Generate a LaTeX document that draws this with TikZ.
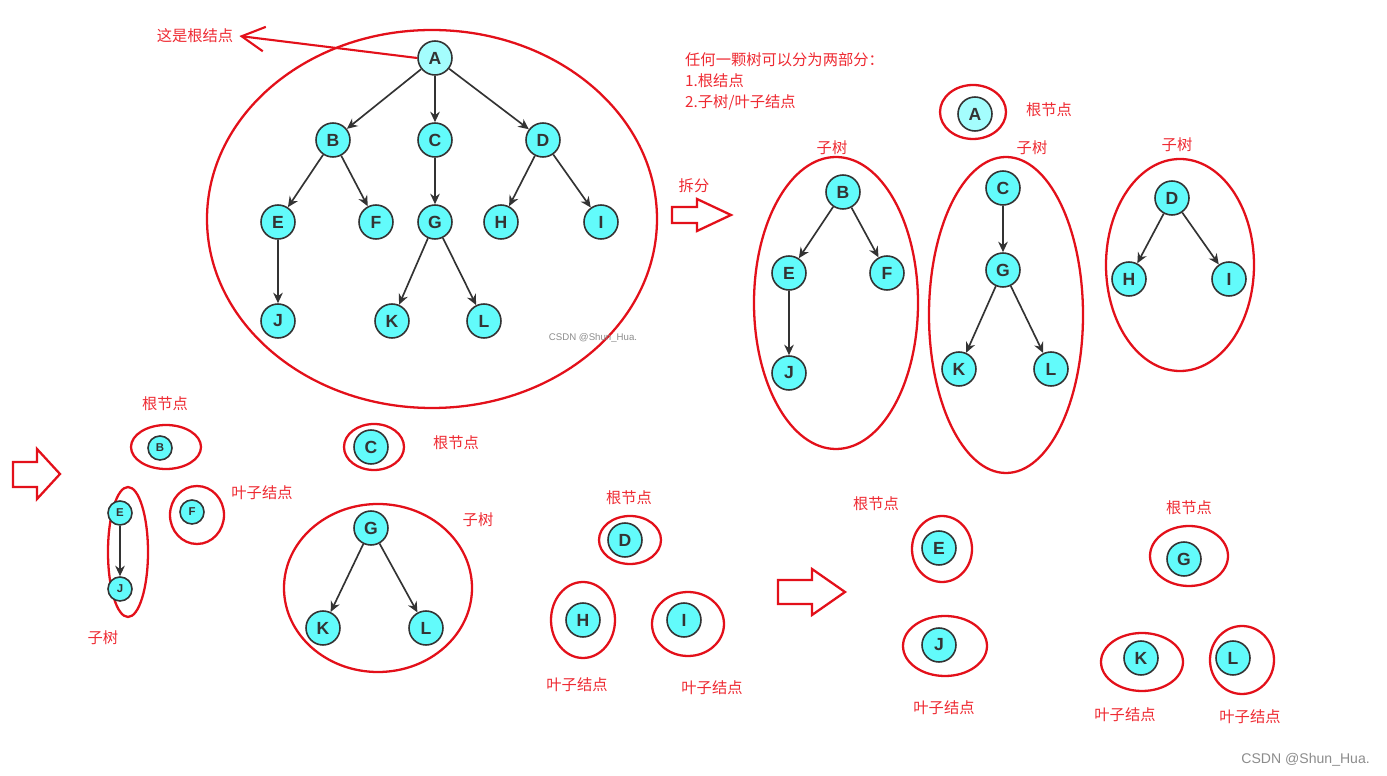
\documentclass[tikz,border=0pt]{standalone}
\usepackage{fontspec}
\usetikzlibrary{arrows.meta, positioning}
\newfontfamily\cjk{Noto Sans CJK SC}
\newfontfamily\letterfont{Liberation Sans}
\definecolor{Ink}{HTML}{333333}
\definecolor{NodeFill}{HTML}{62FBFB}
\definecolor{RootFill}{HTML}{A4FDFD}
\definecolor{Mark}{HTML}{E3101A}
\definecolor{MarkText}{HTML}{EE2A32}
\definecolor{Dim}{HTML}{8C8C8C}

\begin{document}
\begin{tikzpicture}[
            x=0.02cm, y=-0.02cm,
            vertex/.style={
                circle,
                draw=Ink,
                fill=NodeFill,
                line width=0.9pt,
                minimum size=0.68cm,
                inner sep=0pt,
                font=\letterfont\bfseries\fontsize{10}{10}\selectfont,
                text=Ink
            },
            rootvertex/.style={vertex, fill=RootFill},
            smallvertex/.style={
                vertex,
                minimum size=0.48cm,
                font=\letterfont\bfseries\fontsize{6.5}{6.5}\selectfont
            },
            edge/.style={-{Stealth[length=6pt, width=5.5pt]}, line width=0.95pt, color=Ink},
            ring/.style={draw=Mark, line width=1.3pt},
            blockarrow/.style={draw=Mark, line width=1.3pt, fill=white, line join=miter},
            note/.style={font=\cjk\fontsize{8.7}{12}\selectfont, text=MarkText},
            mark/.style={font=\letterfont\fontsize{#1}{#1}\selectfont, text=Dim}
        ]
            \useasboundingbox (0,0) rectangle (1387,776);

            % Whole tree
            \draw[ring] (432,219) ellipse [x radius=225, y radius=189];
            \node[rootvertex] (a) at (435,58) {A};
            \node[vertex] (b) at (333,140) {B};
            \node[vertex] (c) at (435,140) {C};
            \node[vertex] (d) at (543,140) {D};
            \node[vertex] (e) at (278,222) {E};
            \node[vertex] (f) at (376,222) {F};
            \node[vertex] (g) at (435,222) {G};
            \node[vertex] (h) at (501,222) {H};
            \node[vertex] (i) at (601,222) {I};
            \node[vertex] (j) at (278,321) {J};
            \node[vertex] (k) at (392,321) {K};
            \node[vertex] (l) at (484,321) {L};
            \draw[edge] (a) -- (b);
            \draw[edge] (a) -- (c);
            \draw[edge] (a) -- (d);
            \draw[edge] (b) -- (e);
            \draw[edge] (b) -- (f);
            \draw[edge] (c) -- (g);
            \draw[edge] (d) -- (h);
            \draw[edge] (d) -- (i);
            \draw[edge] (e) -- (j);
            \draw[edge] (g) -- (k);
            \draw[edge] (g) -- (l);
            \node[note] (rootnote) at (195,36) {这是根结点};
            \draw[draw=Mark, line width=1.2pt, -{Straight Barb[length=13pt, width=14pt]}] (a.west) -- (rootnote.east);
            \node[mark=5.5] (wm1) at (593,338) {CSDN @Shun\_Hua.};

            % Split into root and subtrees
            \node[note, anchor=north west, align=left] (intro) at (679,46)
                {任何一颗树可以分为两部分：\\1.根结点\\2.子树/叶子结点};
            \node[note] (splitnote) at (694,186) {拆分};
            \draw[blockarrow] (672,207) -- (697,207) -- (697,199) -- (731,215) -- (697,231) -- (697,223) -- (672,223) -- cycle;

            \draw[ring] (973,112) ellipse [x radius=33, y radius=27];
            \node[rootvertex] (sa) at (975,114) {A};
            \node[note] (sanote) at (1049,110) {根节点};

            \draw[ring] (836,303) ellipse [x radius=82, y radius=146];
            \node[note] (sub1) at (832,148) {子树};
            \node[vertex] (sb) at (843,192) {B};
            \node[vertex] (se) at (789,273) {E};
            \node[vertex] (sf) at (887,273) {F};
            \node[vertex] (sj) at (789,373) {J};
            \draw[edge] (sb) -- (se);
            \draw[edge] (sb) -- (sf);
            \draw[edge] (se) -- (sj);

            \draw[ring] (1006,315) ellipse [x radius=77, y radius=158];
            \node[note] (sub2) at (1032,148) {子树};
            \node[vertex] (sc) at (1003,188) {C};
            \node[vertex] (sg) at (1003,270) {G};
            \node[vertex] (sk) at (959,369) {K};
            \node[vertex] (sl) at (1051,369) {L};
            \draw[edge] (sc) -- (sg);
            \draw[edge] (sg) -- (sk);
            \draw[edge] (sg) -- (sl);

            \draw[ring] (1180,265) ellipse [x radius=74, y radius=106];
            \node[note] (sub3) at (1177,145) {子树};
            \node[vertex] (sd) at (1172,198) {D};
            \node[vertex] (sh) at (1129,279) {H};
            \node[vertex] (si) at (1229,279) {I};
            \draw[edge] (sd) -- (sh);
            \draw[edge] (sd) -- (si);

            % Second split
            \draw[blockarrow] (13,462) -- (37,462) -- (37,449) -- (60,474) -- (37,499) -- (37,487) -- (13,487) -- cycle;

            \node[note] (bbnote) at (165,404) {根节点};
            \draw[ring] (166,447) ellipse [x radius=35, y radius=22];
            \node[smallvertex] (bb) at (160,448) {B};

            \draw[ring] (128,552) ellipse [x radius=20, y radius=65];
            \node[smallvertex] (be) at (120,513) {E};
            \node[smallvertex] (bj) at (120,589) {J};
            \draw[edge] (be) -- (bj);
            \node[note] (bsub) at (103,638) {子树};

            \draw[ring] (197,515) ellipse [x radius=27, y radius=29];
            \node[smallvertex] (bf) at (192,512) {F};
            \node[note] (bfnote) at (262,493) {叶子结点};

            \draw[ring] (374,447) ellipse [x radius=30, y radius=23];
            \node[vertex] (bc) at (371,447) {C};
            \node[note] (bcnote) at (456,443) {根节点};

            \draw[ring] (378,588) ellipse [x radius=94, y radius=84];
            \node[vertex] (bg) at (371,528) {G};
            \node[vertex] (bk) at (323,628) {K};
            \node[vertex] (bl) at (426,628) {L};
            \draw[edge] (bg) -- (bk);
            \draw[edge] (bg) -- (bl);
            \node[note] (bgsub) at (478,520) {子树};

            \node[note] (bdnote) at (629,498) {根节点};
            \draw[ring] (630,540) ellipse [x radius=31, y radius=24];
            \node[vertex] (bd) at (625,540) {D};
            \draw[ring] (583,620) ellipse [x radius=32, y radius=38];
            \node[vertex] (bh) at (583,620) {H};
            \draw[ring] (688,624) ellipse [x radius=36, y radius=32];
            \node[vertex] (bi) at (684,620) {I};
            \node[note] (bhnote) at (577,685) {叶子结点};
            \node[note] (binote) at (712,688) {叶子结点};

            % Last split
            \draw[blockarrow] (778,580) -- (812,580) -- (812,569) -- (845,592) -- (812,615) -- (812,604) -- (778,604) -- cycle;

            \node[note] (cenote) at (876,504) {根节点};
            \draw[ring] (942,549) ellipse [x radius=30, y radius=33];
            \node[vertex] (ce) at (939,548) {E};
            \draw[ring] (945,646) ellipse [x radius=42, y radius=30];
            \node[vertex] (cj) at (939,645) {J};
            \node[note] (cjnote) at (944,708) {叶子结点};

            \node[note] (cgnote) at (1189,508) {根节点};
            \draw[ring] (1189,556) ellipse [x radius=39, y radius=30];
            \node[vertex] (cg) at (1184,559) {G};
            \draw[ring] (1142,662) ellipse [x radius=41, y radius=29];
            \node[vertex] (ck) at (1141,658) {K};
            \draw[ring] (1242,660) ellipse [x radius=32, y radius=34];
            \node[vertex] (cl) at (1233,658) {L};
            \node[note] (cknote) at (1125,715) {叶子结点};
            \node[note] (clnote) at (1250,717) {叶子结点};

            \node[mark=8, anchor=east] (wm2) at (1376,760) {CSDN @Shun\_Hua.};
        \end{tikzpicture}
\end{document}
